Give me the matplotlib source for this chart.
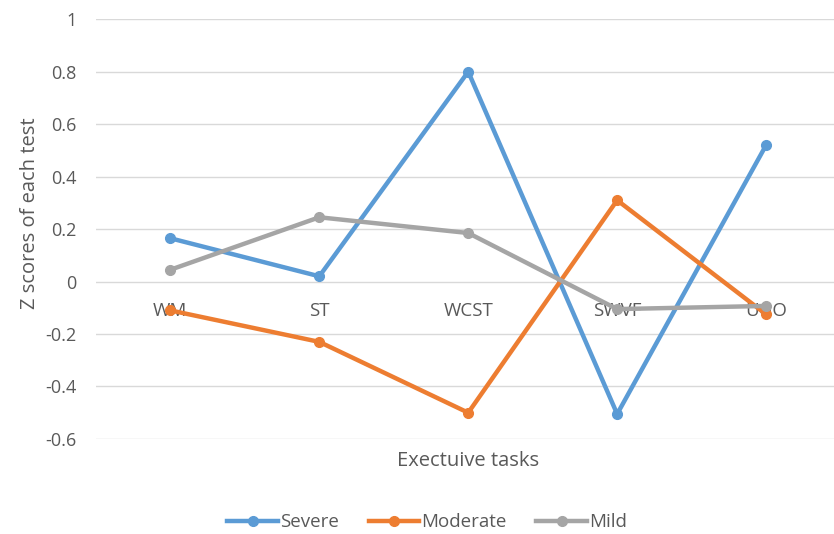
import matplotlib
matplotlib.use("Agg")
import matplotlib.pyplot as plt

categories = ["WM", "ST", "WCST", "SWVF", "UGO"]
severe = [0.165, 0.02, 0.80, -0.505, 0.52]
moderate = [-0.11, -0.23, -0.50, 0.31, -0.125]
mild = [0.045, 0.245, 0.185, -0.105, -0.093]
yticks = [-0.6, -0.4, -0.2, 0, 0.2, 0.4, 0.6, 0.8, 1]
ytick_labels = ["-0.6", "-0.4", "-0.2", "0", "0.2", "0.4", "0.6", "0.8", "1"]

plt.rcParams['font.family'] = ['Open Sans', 'DejaVu Sans']
txt = '#595959'

fig = plt.figure(figsize=(8.34, 5.34), dpi=100)
ax = fig.add_axes([0.115, 0.178, 0.885, 0.786])

x = list(range(len(categories)))
ax.plot(x, severe, color='#5B9BD5', lw=3.2, marker='o', ms=7, label='Severe', zorder=3)
ax.plot(x, moderate, color='#ED7D31', lw=3.2, marker='o', ms=7, label='Moderate', zorder=3)
ax.plot(x, mild, color='#A5A5A5', lw=3.2, marker='o', ms=7, label='Mild', zorder=3)

ax.set_ylim(-0.6, 1.0)
ax.set_xlim(-0.5, 4.456)
ax.set_yticks(yticks)
ax.set_yticklabels(ytick_labels, color=txt, fontsize=13)
ax.tick_params(axis='y', length=0, pad=14)
ax.set_xticks([])
ax.grid(axis='y', color='#D9D9D9', lw=1)
ax.set_axisbelow(True)
for s in ax.spines.values():
    s.set_visible(False)

for i, c in enumerate(categories):
    ax.annotate(c, (i, 0), xytext=(0, -29), textcoords='offset pixels',
                ha='center', va='center', color=txt, fontsize=13.5, zorder=2)

fig.text(0.036, 0.60, 'Z scores of each test', rotation=90, ha='center', va='center',
         color=txt, fontsize=14.5)
fig.text(0.561, 0.137, 'Exectuive tasks', ha='center', va='center', color=txt, fontsize=14.5)

leg = fig.legend(loc='center', bbox_to_anchor=(0.512, 0.022), ncol=3, frameon=False,
                 fontsize=13.5, handlelength=2.7, columnspacing=1.6, handletextpad=0.1)
for t in leg.get_texts():
    t.set_color(txt)

fig.savefig('out.png', dpi=100)
